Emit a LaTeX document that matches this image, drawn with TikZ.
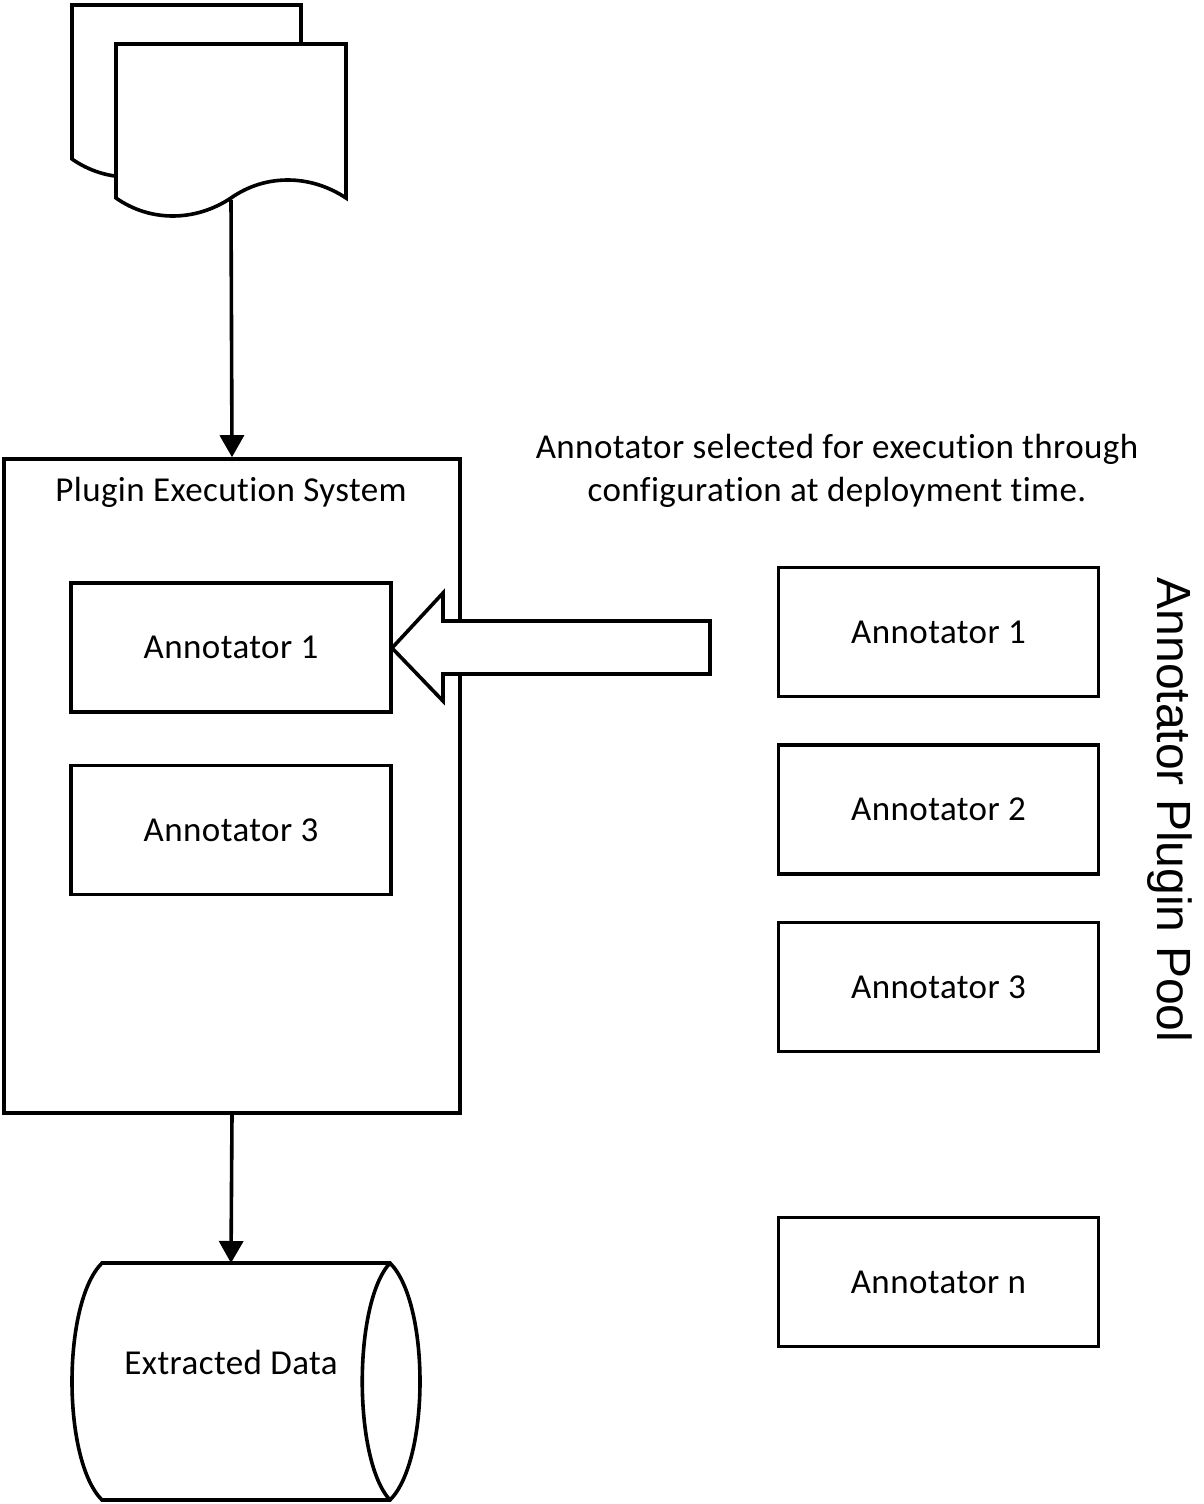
\documentclass[tikz,border=0pt]{standalone}
\usepackage{fontspec}
\setmainfont[Ligatures={NoCommon}, LetterSpace=1.2]{Carlito}
\newfontfamily\poolfont{Liberation Sans}
\usetikzlibrary{arrows.meta}
\tikzset{
  line/.style={line width=3.6pt, line join=miter},
  box/.style={draw, line width=3.6pt, fill=white, minimum width=320pt, minimum height=129pt, inner sep=0pt, font=\fontsize{35}{43}\selectfont},
  conn/.style={line width=3.6pt, -{Triangle[length=22pt,width=24pt]}},
  lbl/.style={font=\fontsize{35}{43}\selectfont, inner sep=0pt}
}
\begin{document}
\begin{tikzpicture}[x=1pt,y=-1pt]
\useasboundingbox (0,0) rectangle (1204,1504);
% multi-document
\draw[line, fill=white] (72,5) -- (301,5) -- (301,159)
   .. controls (265,135) and (220,135) .. (187,159)
   .. controls (151,183) and (106,183) .. (72,159) -- cycle;
\draw[line, fill=white] (116,44) -- (346,44) -- (346,198)
   .. controls (310,174) and (265,174) .. (231,198)
   .. controls (195,222) and (150,222) .. (116,198) -- cycle;
\coordinate (docbot) at (231,200);
% system box
\node[draw, line width=3.6pt, minimum width=456pt, minimum height=654pt, inner sep=0pt] (sys) at (232,786) {};
\node[lbl] (systitle) at (231,492) {Plugin Execution System};
\node[box] (l1) at (231,647.5) {Annotator 1};
\node[box] (l3) at (231,830) {Annotator 3};
% pool
\node[box] (r1) at (938.5,632) {Annotator 1};
\node[box] (r2) at (938.5,809.5) {Annotator 2};
\node[box] (r3) at (938.5,987) {Annotator 3};
\node[box] (rn) at (938.5,1282) {Annotator n};
\node[inner sep=0pt, rotate=-90, font=\poolfont\fontsize{48}{56}\selectfont] (pool) at (1170,810) {Annotator Plugin Pool};
\node[lbl, align=center] (note) at (837,471) {Annotator selected for execution through\\configuration at deployment time.};
% big arrow
\draw[line, fill=white] (392,648) -- (443,593) -- (443,621) -- (710,621) -- (710,674) -- (443,674) -- (443,701) -- cycle;
% database
\draw[line, fill=white] (102,1263) -- (390,1263)
   .. controls (430,1303) and (430,1460) .. (390,1500)
   -- (102,1500)
   .. controls (62,1460) and (62,1303) .. (102,1263) -- cycle;
\draw[line] (390,1263) .. controls (353,1303) and (353,1460) .. (390,1500);
\coordinate (dbtop) at (231,1263);
\node[lbl] (db) at (231,1362) {Extracted Data};
% connectors
\draw[conn] (docbot) -- (sys.north);
\draw[conn] (sys.south) -- (dbtop);
\end{tikzpicture}
\end{document}
